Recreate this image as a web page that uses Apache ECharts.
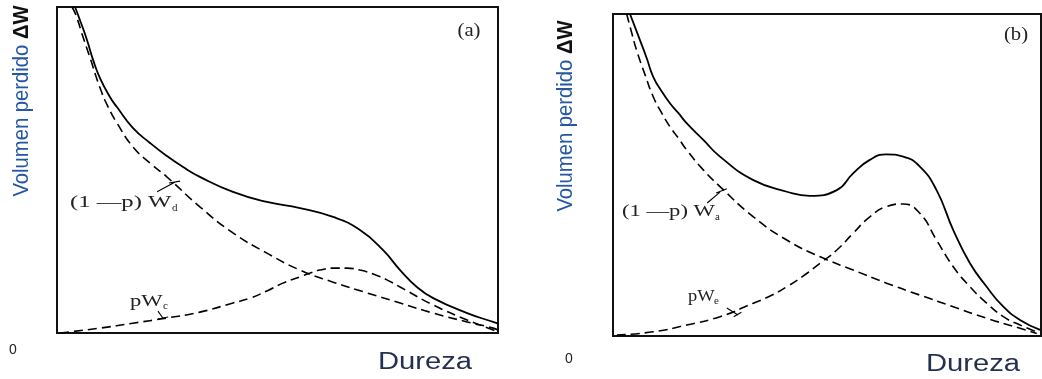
<!DOCTYPE html>
<html><head><meta charset="utf-8">
<script src="https://cdn.jsdelivr.net/npm/echarts@6/dist/echarts.min.js"></script>
<style>html,body{margin:0;padding:0;background:#fff}#c{width:1042px;height:379px}</style>
</head><body><div id="c"></div>
<script>
// ---------- Panel (a) ----------
const aTotalX = [4.1, 5.2, 6.8, 8.2, 9.75, 12.0, 13.6, 17.2, 21.1, 24.9, 28.6, 32.4, 39.9, 47.6, 55.1, 62.6, 68.7, 73.9, 77.8, 81.6, 85.3, 93.0, 98.9, 100];
const aTotalY = [100, 96.0, 89.9, 83.7, 78.2, 72.4, 69.3, 62.9, 58.3, 54.3, 50.9, 47.9, 43.3, 40.2, 38.3, 35.6, 31.6, 25.5, 19.3, 14.1, 10.7, 6.1, 3.4, 2.9];
const aWdX = [3.4, 4.3, 5.9, 7.5, 9.75, 11.6, 13.6, 17.2, 21.1, 24.9, 32.4, 39.9, 47.6, 55.1, 62.6, 70.3, 77.8, 85.3, 93.0, 98.9, 100];
const aWdY = [100, 97.5, 90.8, 84.4, 75.2, 69.3, 64.4, 57.1, 52.1, 47.9, 38.7, 30.7, 24.5, 19.3, 15.6, 12.3, 9.2, 6.1, 3.4, 1.5, 0.9];
const aWcX = [0.7, 9.75, 17.2, 24.9, 32.4, 39.9, 43.8, 47.6, 51.2, 55.1, 57.4, 59.6, 62.6, 65.8, 68.7, 71.7, 74.8, 77.8, 85.3, 93.0, 98.9, 100];
const aWcY = [0, 1.5, 3.0, 4.6, 6.4, 9.2, 10.7, 12.9, 15.3, 17.2, 18.4, 19.3, 19.9, 19.9, 19.3, 18.1, 16.3, 14.1, 8.6, 4.0, 0.9, 0.5];
// ---------- Panel (b) ----------
const bTotalX = [3.97, 5.1, 6.3, 7.9, 9.4, 11.4, 13.3, 15.3, 17.2, 21.1, 25.0, 32.8, 40.6, 46.0, 52.3, 56.1, 60.0, 63.9, 67.8, 71.7, 75.6, 79.5, 83.4, 87.3, 91.2, 95.1, 99.8];
const bTotalY = [100, 96.1, 91.9, 86.2, 80.5, 75.9, 72.3, 69.2, 66.1, 60.9, 55.7, 48.4, 44.8, 43.5, 45.3, 50.5, 54.7, 56.4, 55.7, 52.6, 45.3, 32.9, 22.6, 15.3, 9.1, 5.0, 1.9];
const bWdX = [3.2, 4.4, 5.5, 7.5, 9.4, 11.4, 13.3, 15.3, 17.2, 21.1, 25.0, 32.8, 40.6, 48.4, 56.1, 63.9, 71.7, 79.5, 87.3, 95.1, 99.0];
const bWdY = [100, 94.0, 88.8, 81.1, 74.3, 69.2, 65.0, 61.4, 57.8, 51.6, 46.4, 37.0, 29.8, 24.6, 20.5, 16.4, 12.7, 9.1, 5.5, 2.4, 0.8];
const bWcX = [0.9, 9.4, 17.2, 25.0, 32.8, 36.7, 40.6, 44.4, 48.4, 52.3, 56.1, 60.0, 63.9, 67.8, 71.7, 75.6, 79.5, 83.4, 87.3, 91.2, 95.1, 99.0];
const bWcY = [0.3, 1.3, 3.4, 6.0, 10.2, 12.4, 15.3, 18.6, 22.6, 26.7, 31.9, 37.0, 40.2, 41.0, 38.1, 29.8, 21.5, 15.3, 10.2, 6.0, 3.4, 1.3];
// ---------- leader lines for curve labels (data coordinates) ----------
const aWdLeader = [[22.7, 43.3], [26.8, 46.3], '-', [25.4, 46.0], [27.9, 46.6]];
const aWcLeader = [[22.9, 6.7], [24.0, 4.6], '-', [22.9, 4.3], [25.2, 4.9]];
const bWdLeader = [[22.0, 41.3], [25.0, 44.7], '-', [24.1, 44.4], [26.6, 45.7]];
const bWcLeader = [[26.6, 8.7], [29.2, 6.5], '-', [28.2, 6.0], [30.0, 7.4]];
// ---------- texts ----------
const yTitle = 'Volumen perdido ';
const yTitleSym = 'ΔW';
const xTitle = 'Dureza';
const zeroLabel = '0';
const panelLabels = ['(a)', '(b)'];

const zip = (xs, ys) => xs.map((x, i) => [x, ys[i]]);

const chart = echarts.init(document.getElementById('c'), null, {renderer: 'canvas'});

const grids = [
  {left: 57, top: 7, width: 441, height: 326},
  {left: 613, top: 14, width: 428, height: 322}
];
const axisCommon = {
  type: 'value', min: 0, max: 100,
  axisLine: {show: false}, axisTick: {show: false},
  axisLabel: {show: false}, splitLine: {show: false}
};
const solid = {color: '#000', width: 1.8, type: 'solid'};
const dashed = {color: '#000', width: 1.6, type: [9, 5]};
function curve(data, gi, style) {
  return {type: 'line', data, xAxisIndex: gi, yAxisIndex: gi, showSymbol: false,
    smooth: 0.5, lineStyle: style, silent: true, clip: true, z: 3};
}
function leader(data, gi) {
  return {type: 'line', data, xAxisIndex: gi, yAxisIndex: gi, showSymbol: false,
    connectNulls: false, lineStyle: {color: '#000', width: 1.1}, silent: true, z: 4};
}

const serif = '"Liberation Serif", "DejaVu Serif", serif';
const sans = '"Liberation Sans", Arial, sans-serif';

function txt(x, y, text, font, fill, align, sx) {
  return {
    type: 'text', x, y, scaleX: sx || 1,
    style: {text, font, fill, align: align || 'left', textAlign: align || 'left',
      verticalAlign: 'middle', textVerticalAlign: 'middle'}
  };
}
function yLabel(x, y) {
  return {
    type: 'text', x, y, rotation: Math.PI / 2, scaleX: 0.92,
    style: {
      text: '{a|' + yTitle + '}{b|' + yTitleSym + '}',
      align: 'center', textAlign: 'center', verticalAlign: 'middle', textVerticalAlign: 'middle',
      rich: {
        a: {fontSize: 22, fontFamily: sans, fill: '#2456a4', color: '#2456a4'},
        b: {fontSize: 22, fontFamily: sans, fontWeight: 'bold', fill: '#111', color: '#111'}
      }
    }
  };
}

const graphics = [
  yLabel(22, 101),
  yLabel(566, 116),
  txt(13, 350, zeroLabel, '14px ' + sans, '#222', 'center'),
  txt(569, 359, zeroLabel, '14px ' + sans, '#222', 'center'),
  txt(425, 363, xTitle, '23px ' + sans, '#253050', 'center', 1.27),
  txt(973, 365, xTitle, '23px ' + sans, '#253050', 'center', 1.27),
  txt(469, 31, panelLabels[0], '18px ' + serif, '#222', 'center', 1.15),
  txt(1016, 35, panelLabels[1], '18px ' + serif, '#222', 'center', 1.15),
  // curve labels
  txt(70, 203, '(1 —p) W', '17px ' + serif, '#222', 'left', 1.45),
  txt(172, 208, 'd', '10px ' + serif, '#222', 'left', 1.1),
  txt(130, 302, 'pW', '17px ' + serif, '#222', 'left', 1.33),
  txt(163, 306, 'c', '10px ' + serif, '#222', 'left', 1.1),
  txt(622, 212, '(1 —p) W', '17px ' + serif, '#222', 'left', 1.33),
  txt(715, 217, 'a', '10px ' + serif, '#222', 'left', 1.1),
  txt(688, 297, 'pW', '16px ' + serif, '#222', 'left', 1.15),
  txt(714, 301, 'e', '10px ' + serif, '#222', 'left', 1.1)
];

chart.setOption({
  animation: false,
  backgroundColor: '#fff',
  grid: grids.map(g => Object.assign({show: true, borderColor: '#111', borderWidth: 2, backgroundColor: 'transparent'}, g)),
  xAxis: [Object.assign({gridIndex: 0}, axisCommon), Object.assign({gridIndex: 1}, axisCommon)],
  yAxis: [Object.assign({gridIndex: 0}, axisCommon), Object.assign({gridIndex: 1}, axisCommon)],
  series: [
    curve(zip(aTotalX, aTotalY), 0, solid),
    curve(zip(aWdX, aWdY), 0, dashed),
    curve(zip(aWcX, aWcY), 0, dashed),
    curve(zip(bTotalX, bTotalY), 1, solid),
    curve(zip(bWdX, bWdY), 1, dashed),
    curve(zip(bWcX, bWcY), 1, dashed),
    leader(aWdLeader, 0),
    leader(aWcLeader, 0),
    leader(bWdLeader, 1),
    leader(bWcLeader, 1)
  ],
  graphic: graphics
});
</script>
</body></html>
